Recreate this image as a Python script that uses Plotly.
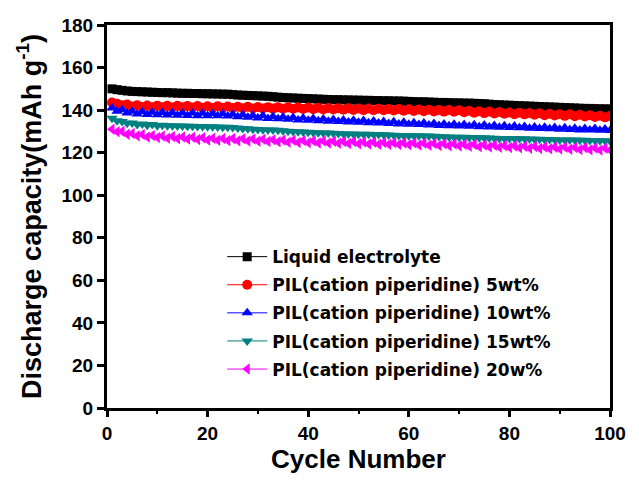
import plotly.graph_objects as go

cycles = list(range(1, 101))

liquid = [150.0, 149.6, 149.3, 149.0, 148.8, 148.7, 148.6, 148.5, 148.4, 148.3,
          148.2, 148.2, 148.1, 148.0, 147.9, 147.9, 147.8, 147.8, 147.7, 147.7,
          147.6, 147.6, 147.5, 147.5, 147.3, 147.1, 147.0, 146.9, 146.8, 146.7,
          146.6, 146.5, 146.3, 146.1, 145.9, 145.8, 145.7, 145.6, 145.5, 145.4,
          145.3, 145.2, 145.1, 145.0, 144.9, 144.9, 144.8, 144.8, 144.7, 144.7,
          144.6, 144.6, 144.5, 144.5, 144.4, 144.4, 144.3, 144.3, 144.2, 144.1,
          144.0, 143.9, 143.9, 143.8, 143.7, 143.6, 143.6, 143.5, 143.4, 143.4,
          143.3, 143.3, 143.2, 143.1, 143.0, 142.8, 142.6, 142.5, 142.4, 142.3,
          142.2, 142.1, 142.0, 141.9, 141.8, 141.7, 141.6, 141.5, 141.4, 141.3,
          141.2, 141.1, 141.0, 140.9, 140.8, 140.8, 140.7, 140.6, 140.6, 140.5]

pil5 = [143.6, 143.0, 142.3, 142.6, 141.7, 142.3, 141.5, 142.2, 141.4, 142.1,
        141.3, 142.0, 141.2, 142.0, 141.3, 141.9, 141.2, 141.9, 141.1, 141.8,
        141.0, 141.8, 141.1, 141.7, 141.0, 141.6, 140.9, 141.6, 140.8, 141.5,
        140.8, 141.4, 140.7, 141.4, 140.6, 141.3, 140.6, 141.2, 140.5, 141.2,
        140.4, 141.1, 140.3, 141.0, 140.3, 140.9, 140.2, 140.9, 140.1, 140.8,
        140.0, 140.7, 139.9, 140.6, 139.9, 140.5, 139.8, 140.5, 139.7, 140.4,
        139.6, 140.3, 139.5, 140.2, 139.4, 140.1, 139.3, 140.0, 139.2, 139.9,
        139.0, 139.7, 138.8, 139.5, 138.6, 139.3, 138.4, 139.1, 138.3, 138.9,
        138.1, 138.8, 138.0, 138.6, 137.8, 138.5, 137.6, 138.3, 137.5, 138.1,
        137.3, 138.0, 137.1, 137.8, 137.0, 137.6, 136.8, 137.4, 136.6, 137.2]

pil10 = [141.0, 139.5, 140.2, 138.6, 139.5, 138.2, 139.2, 137.9, 139.0, 137.8,
         138.9, 137.7, 138.8, 137.6, 138.7, 137.5, 138.6, 137.4, 138.5, 137.4,
         138.4, 137.3, 138.3, 137.2, 138.0, 136.9, 137.8, 136.6, 137.5, 136.3,
         137.3, 136.1, 137.0, 135.9, 136.8, 135.7, 136.5, 135.4, 136.3, 135.2,
         136.0, 135.0, 135.8, 134.8, 135.6, 134.6, 135.4, 134.4, 135.2, 134.3,
         135.1, 134.1, 134.9, 133.9, 134.7, 133.7, 134.5, 133.5, 134.3, 133.4,
         134.1, 133.2, 133.9, 133.0, 133.7, 132.8, 133.5, 132.7, 133.3, 132.5,
         133.2, 132.4, 133.1, 132.2, 133.0, 132.1, 132.8, 132.0, 132.6, 131.8,
         132.5, 131.7, 132.3, 131.5, 132.1, 131.3, 132.0, 131.2, 131.8, 131.0,
         131.7, 130.9, 131.5, 130.7, 131.4, 130.6, 131.3, 130.5, 131.1, 130.4]

pil15 = [136.2, 135.0, 134.6, 133.8, 133.9, 133.2, 133.5, 132.9, 133.2, 132.7,
         132.9, 132.6, 132.7, 132.5, 132.5, 132.4, 132.4, 132.3, 132.3, 132.2,
         132.2, 132.1, 132.0, 132.0, 131.8, 131.6, 131.4, 131.2, 131.0, 130.9,
         130.8, 130.7, 130.6, 130.5, 130.3, 130.1, 129.9, 129.8, 129.7, 129.6,
         129.5, 129.4, 129.3, 129.2, 129.1, 129.0, 128.9, 128.8, 128.8, 128.7,
         128.6, 128.6, 128.5, 128.5, 128.4, 128.3, 128.2, 128.1, 128.0, 128.0,
         127.9, 127.9, 127.8, 127.8, 127.7, 127.6, 127.5, 127.4, 127.3, 127.2,
         127.2, 127.1, 127.1, 127.0, 127.0, 126.9, 126.8, 126.7, 126.7, 126.6,
         126.6, 126.5, 126.5, 126.4, 126.3, 126.3, 126.2, 126.2, 126.1, 126.0,
         126.0, 125.9, 125.9, 125.8, 125.8, 125.7, 125.7, 125.6, 125.6, 125.5]

pil20 = [131.0, 129.8, 130.0, 128.6, 129.0, 127.9, 128.5, 127.4, 128.1, 127.1,
         127.8, 126.8, 127.6, 126.6, 127.4, 126.4, 127.2, 126.2, 127.0, 126.0,
         126.8, 125.8, 126.7, 125.7, 126.6, 125.6, 126.5, 125.5, 126.4, 125.4,
         126.3, 125.3, 126.1, 125.1, 125.9, 124.9, 125.8, 124.8, 125.7, 124.7,
         125.6, 124.6, 125.5, 124.5, 125.4, 124.4, 125.3, 124.3, 125.2, 124.2,
         125.0, 124.1, 124.9, 124.0, 124.8, 123.9, 124.7, 123.8, 124.6, 123.7,
         124.5, 123.6, 124.4, 123.5, 124.3, 123.4, 124.2, 123.3, 124.1, 123.2,
         123.9, 123.0, 123.8, 122.8, 123.6, 122.7, 123.5, 122.5, 123.3, 122.4,
         123.2, 122.3, 123.0, 122.1, 122.9, 122.0, 122.7, 121.8, 122.6, 121.7,
         122.5, 121.6, 122.4, 121.5, 122.3, 121.4, 122.2, 121.3, 122.1, 121.2]

names = ["Liquid electrolyte",
         "PIL(cation piperidine) 5wt%",
         "PIL(cation piperidine) 10wt%",
         "PIL(cation piperidine) 15wt%",
         "PIL(cation piperidine) 20w%"]
series = [liquid, pil5, pil10, pil15, pil20]
colors = ["#000000", "#ff0000", "#0000ff", "#008080", "#ff00ff"]
symbols = ["square", "circle", "triangle-up", "triangle-down", "triangle-left"]
sizes = [9, 10, 10, 10, 10]

ARIAL = "Liberation Sans"
DEJAVU = "DejaVu Sans"

fig = go.Figure()
for i, (nm, ys, c, s, sz) in enumerate(zip(names, series, colors, symbols, sizes)):
    fig.add_trace(go.Scatter(
        x=cycles, y=ys, name=nm, mode="lines+markers",
        legendgroup=f"g{i}",
        line=dict(color=c, width=1),
        marker=dict(symbol=s, size=sz, color=c, line=dict(width=0)),
    ))

axis_common = dict(
    showline=True, linecolor="black", linewidth=3, mirror=True,
    ticks="outside", tickwidth=3, tickcolor="black",
    showgrid=False, zeroline=False,
    tickfont=dict(family=ARIAL, size=19, color="black", weight="bold"),
)

fig.update_xaxes(
    range=[0, 100], tick0=0, dtick=20, ticklen=6,
    minor=dict(ticks="outside", ticklen=3, tickwidth=2, dtick=10, tickcolor="black"),
    title=dict(text="Cycle Number", font=dict(family=ARIAL, size=26, color="black", weight="bold"),
               standoff=6),
    **axis_common,
)
fig.update_yaxes(
    range=[0, 180], tick0=0, dtick=20, ticklen=7,
    title=dict(text="Discharge capacity(mAh g<sup>-1</sup>)",
               font=dict(family=ARIAL, size=27, color="black", weight="bold"),
               standoff=13),
    **axis_common,
)

# page body has an 8px margin: figure spans 8..631 x 8..475 in the window
fig.update_layout(
    width=623, height=467,
    margin=dict(l=99, r=21, t=17, b=67, autoexpand=False),
    paper_bgcolor="white", plot_bgcolor="white",
    showlegend=True,
    legend=dict(
        x=0.229, y=0.441, xanchor="left", yanchor="top",
        bgcolor="rgba(0,0,0,0)", borderwidth=0,
        font=dict(family=DEJAVU, size=17, color="black", weight="bold"),
        traceorder="grouped", tracegroupgap=3,
        itemwidth=40,
    ),
)

fig.write_html("out.html")
